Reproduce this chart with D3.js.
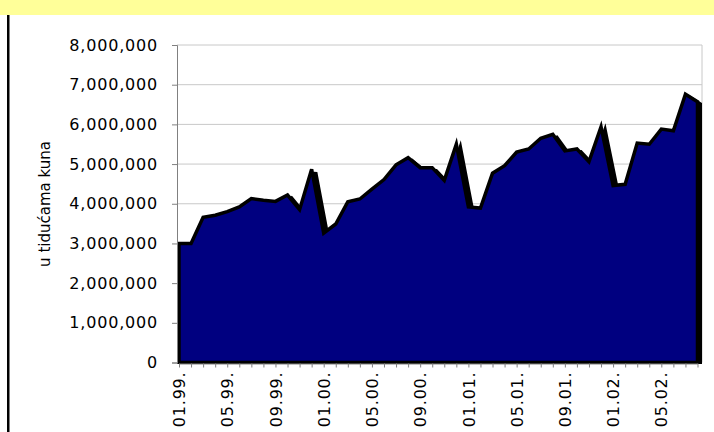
<!DOCTYPE html>
<html>
<head>
<meta charset="utf-8">
<script src="https://cdn.jsdelivr.net/npm/d3@7"></script>
<style>
  body { margin: 0; background: #fff; }
  svg text { font-family: "DejaVu Sans", sans-serif; fill: #000; }
</style>
</head>
<body>
<script>
// months shown on the category axis (01.99. .. 08.02.)
var months = ["01.99.", "02.99.", "03.99.", "04.99.", "05.99.", "06.99.", "07.99.", "08.99.",
              "09.99.", "10.99.", "11.99.", "12.99.", "01.00.", "02.00.", "03.00.", "04.00.",
              "05.00.", "06.00.", "07.00.", "08.00.", "09.00.", "10.00.", "11.00.", "12.00.",
              "01.01.", "02.01.", "03.01.", "04.01.", "05.01.", "06.01.", "07.01.", "08.01.",
              "09.01.", "10.01.", "11.01.", "12.01.", "01.02.", "02.02.", "03.02.", "04.02.",
              "05.02.", "06.02.", "07.02.", "08.02."];

// values in thousands of kuna
var values = [3000000, 3000000, 3660000, 3710000, 3800000, 3920000, 4130000, 4090000,
              4060000, 4220000, 3850000, 4870000, 3260000, 3490000, 4050000, 4120000,
              4370000, 4610000, 4980000, 5160000, 4910000, 4910000, 4590000, 5500000,
              3920000, 3890000, 4770000, 4960000, 5300000, 5380000, 5650000, 5750000,
              5330000, 5380000, 5060000, 5940000, 4460000, 4490000, 5530000, 5500000,
              5880000, 5840000, 6760000, 6570000];

var yTicks = [0, 1000000, 2000000, 3000000, 4000000, 5000000, 6000000, 7000000, 8000000];
var yTitle = "u tidućama kuna";

var w = 714, h = 432;
var plot = {left: 179, right: 697.5, top: 45, bottom: 362.5, edge: 702};

var svg = d3.select("body").append("svg")
            .attr("width", w)
            .attr("height", h);

// yellow band on top
svg.append("rect")
   .attr("x", 0).attr("y", 0)
   .attr("width", w).attr("height", 15)
   .style("fill", "#ffff99");

// black line on the left
svg.append("rect")
   .attr("x", 7).attr("y", 15)
   .attr("width", 2.5).attr("height", h - 15)
   .style("fill", "#000");

var data = months.map(function(m, i) { return {month: m, value: values[i]}; });

var xScale = d3.scalePoint()
               .domain(months)
               .range([plot.left, plot.right]);

var yScale = d3.scaleLinear()
               .domain([0, 8000000])
               .range([plot.bottom, plot.top]);

// gridlines
svg.selectAll(".grid")
   .data(yTicks.slice(1))
   .enter().append("line")
   .attr("x1", plot.left - 2)
   .attr("x2", plot.edge)
   .attr("y1", function(d) { return yScale(d); })
   .attr("y2", function(d) { return yScale(d); })
   .style("stroke", "#c8c8c8")
   .style("stroke-width", 1);

// right border of plot area
svg.append("line")
   .attr("x1", plot.edge).attr("x2", plot.edge)
   .attr("y1", plot.top).attr("y2", plot.bottom)
   .style("stroke", "#c8c8c8");

// clip for area and its shadow
svg.append("clipPath")
   .attr("id", "plotclip")
   .append("rect")
   .attr("x", plot.left - 2)
   .attr("y", 0)
   .attr("width", plot.edge - plot.left + 2)
   .attr("height", plot.bottom + 1.5);

var area = d3.area()
             .x(function(d) { return xScale(d.month); })
             .y0(yScale(0))
             .y1(function(d) { return yScale(d.value); });

var g = svg.append("g").attr("clip-path", "url(#plotclip)");

// shadow
g.append("path")
 .datum(data)
 .attr("d", area)
 .attr("transform", "translate(4,3)")
 .style("fill", "#000")
 .style("stroke", "#000")
 .style("stroke-width", 3.5)
 .style("stroke-linejoin", "miter");

// main area
g.append("path")
 .datum(data)
 .attr("d", area)
 .style("fill", "#000080")
 .style("stroke", "#000")
 .style("stroke-width", 3.5)
 .style("stroke-linejoin", "miter");

// y axis
var yAxis = svg.append("g")
               .attr("transform", "translate(" + (plot.left - 2) + ",0)")
               .call(d3.axisLeft(yScale)
                       .tickValues(yTicks)
                       .tickSize(5)
                       .tickPadding(14)
                       .tickFormat(d3.format(",")));
yAxis.select(".domain").style("stroke", "#808080");
yAxis.selectAll(".tick line").style("stroke", "#808080");
yAxis.selectAll("text")
     .style("font-size", "16px")
     .style("letter-spacing", "0.8px")
     .style("font-family", "DejaVu Sans, sans-serif");

// x axis
var xAxis = svg.append("g")
               .attr("transform", "translate(0," + (plot.bottom + 1) + ")")
               .call(d3.axisBottom(xScale)
                       .tickSize(4)
                       .tickSizeOuter(0)
                       .tickFormat(function(d, i) { return i % 4 == 0 ? d : ""; }));
xAxis.select(".domain").style("stroke", "#808080");
xAxis.selectAll(".tick line").style("stroke", "#808080");
xAxis.selectAll("text")
     .attr("transform", "rotate(-90)")
     .attr("x", -8)
     .attr("y", 0)
     .attr("dy", "0.35em")
     .style("text-anchor", "end")
     .style("font-size", "16px")
     .style("letter-spacing", "0.8px")
     .style("font-family", "DejaVu Sans, sans-serif");

// y axis title
svg.append("text")
   .attr("transform", "translate(45, 204) rotate(-90)")
   .attr("dy", "0.35em")
   .style("text-anchor", "middle")
   .style("font-size", "15px")
   .text(yTitle);
</script>
</body>
</html>
